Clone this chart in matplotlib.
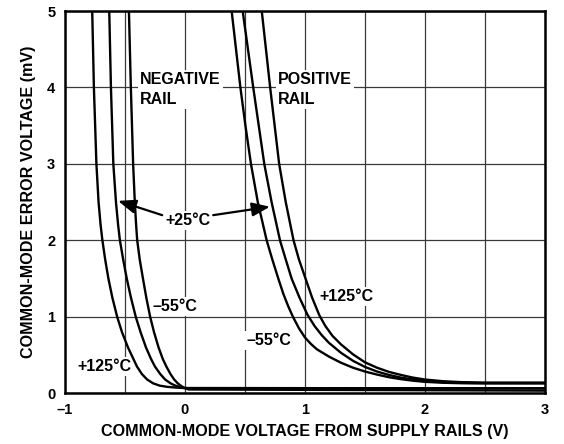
import matplotlib
matplotlib.use("Agg")
import matplotlib.pyplot as plt

plt.rcParams['font.family'] = ['Liberation Sans', 'DejaVu Sans']
plt.rcParams['font.weight'] = 'bold'
plt.rcParams['axes.labelweight'] = 'bold'

# negative rail curves (V from rail, mV)
neg_125_x = [-0.773, -0.759, -0.738, -0.72, -0.703, -0.688, -0.665, -0.638, -0.605, -0.565, -0.525,
             -0.475, -0.43, -0.4, -0.358, -0.315, -0.265, -0.21, -0.15, -0.08, 0.0, 3.0]
neg_125_y = [5.0, 4.0, 3.0, 2.5, 2.2, 2.0, 1.75, 1.5, 1.25, 1.0, 0.8,
             0.6, 0.45, 0.35, 0.25, 0.18, 0.13, 0.1, 0.085, 0.075, 0.068, 0.065]
neg_25_x = [-0.631, -0.617, -0.597, -0.575, -0.557, -0.542, -0.515, -0.485, -0.45, -0.41, -0.37,
            -0.325, -0.283, -0.25, -0.205, -0.165, -0.12, -0.08, -0.04, 0.0, 3.0]
neg_25_y = [5.0, 4.0, 3.0, 2.5, 2.2, 2.0, 1.75, 1.5, 1.25, 1.0, 0.8,
            0.6, 0.45, 0.35, 0.25, 0.18, 0.13, 0.1, 0.08, 0.068, 0.065]
neg_m55_x = [-0.467, -0.451, -0.432, -0.418, -0.407, -0.398, -0.377, -0.35, -0.322, -0.29, -0.258,
             -0.22, -0.185, -0.155, -0.12, -0.09, -0.06, -0.035, -0.01, 0.03, 3.0]
neg_m55_y = [5.0, 4.0, 3.0, 2.5, 2.2, 2.0, 1.75, 1.5, 1.25, 1.0, 0.8,
             0.6, 0.45, 0.35, 0.25, 0.18, 0.13, 0.1, 0.075, 0.05, 0.035]

# positive rail curves
pos_m55_x = [0.389, 0.462, 0.504, 0.55, 0.607, 0.681, 0.728, 0.778, 0.82, 0.86, 0.9, 0.95, 1.0,
             1.05, 1.1, 1.2, 1.3, 1.4, 1.5, 1.6, 1.7, 1.8, 1.9, 2.0, 2.15, 2.3, 2.5, 3.0]
pos_m55_y = [5.0, 4.0, 3.5, 3.0, 2.5, 2.0, 1.75, 1.5, 1.3, 1.14, 1.0, 0.85, 0.73,
             0.645, 0.575, 0.48, 0.4, 0.335, 0.285, 0.245, 0.21, 0.185, 0.165, 0.15, 0.138, 0.132, 0.13, 0.13]
pos_25_x = [0.481, 0.569, 0.661, 0.722, 0.792, 0.84, 0.889, 0.955, 1.02, 1.08, 1.14, 1.2,
            1.3, 1.4, 1.5, 1.6, 1.7, 1.8, 1.9, 2.0, 2.15, 2.3, 2.5, 3.0]
pos_25_y = [5.0, 4.0, 3.0, 2.5, 2.0, 1.75, 1.5, 1.25, 1.03, 0.88, 0.76, 0.66,
            0.53, 0.425, 0.345, 0.285, 0.24, 0.205, 0.18, 0.16, 0.145, 0.137, 0.133, 0.133]
pos_125_x = [0.64, 0.71, 0.785, 0.84, 0.905, 0.95, 1.005, 1.06, 1.12, 1.17, 1.23, 1.3,
             1.4, 1.5, 1.6, 1.7, 1.8, 1.9, 2.0, 2.15, 2.3, 2.5, 3.0]
pos_125_y = [5.0, 4.0, 3.0, 2.5, 2.0, 1.75, 1.5, 1.25, 1.02, 0.88, 0.75, 0.64,
             0.51, 0.405, 0.335, 0.28, 0.24, 0.205, 0.18, 0.158, 0.146, 0.14, 0.14]

xticks = [-1, 0, 1, 2, 3]
xtick_labels = ['\u20131', '0', '1', '2', '3']
yticks = [0, 1, 2, 3, 4, 5]

fig = plt.figure(figsize=(5.64, 4.44), dpi=100)
ax = fig.add_axes([0.1152, 0.1142, 0.851, 0.861])

curves = [(neg_125_x, neg_125_y), (neg_25_x, neg_25_y), (neg_m55_x, neg_m55_y),
          (pos_m55_x, pos_m55_y), (pos_25_x, pos_25_y), (pos_125_x, pos_125_y)]
for cx, cy in curves:
    ax.plot(cx, cy, color='black', linewidth=1.7, zorder=5, solid_joinstyle='round')

ax.set_xlim(-1, 3)
ax.set_ylim(0, 5)
ax.set_xticks(xticks)
ax.set_xticklabels(xtick_labels)
ax.set_xticks([-0.5, 0.5, 1.5, 2.5], minor=True)
ax.set_yticks(yticks)
ax.tick_params(which='both', length=0, pad=7, labelsize=10.5)
ax.set_axisbelow(True)
ax.grid(which='both', axis='x', color='#3a3a3a', linewidth=0.9)
ax.grid(which='major', axis='y', color='#3a3a3a', linewidth=0.9)
for s in ax.spines.values():
    s.set_linewidth(1.8)
    s.set_zorder(6)

ax.set_xlabel('COMMON-MODE VOLTAGE FROM SUPPLY RAILS (V)', fontsize=11.6, labelpad=5)
ax.set_ylabel('COMMON-MODE ERROR VOLTAGE (mV)', fontsize=11.6, labelpad=8)

fs = 11.5
box = dict(facecolor='white', edgecolor='none', pad=1.5)
ax.text(-0.375, 3.976, 'NEGATIVE\nRAIL', ha='left', va='center', fontsize=fs,
        linespacing=1.4, bbox=box, zorder=4)
ax.text(0.775, 3.976, 'POSITIVE\nRAIL', ha='left', va='center', fontsize=fs,
        linespacing=1.4, bbox=box, zorder=4)
ax.text(-0.675, 0.35, '+125\u00b0C', ha='center', va='center', fontsize=fs, bbox=box, zorder=4)
ax.text(-0.083, 1.14, '\u201355\u00b0C', ha='center', va='center', fontsize=fs, bbox=box, zorder=4)
ax.text(0.696, 0.685, '\u201355\u00b0C', ha='center', va='center', fontsize=fs, bbox=box, zorder=4)
ax.text(1.342, 1.27, '+125\u00b0C', ha='center', va='center', fontsize=fs, bbox=box, zorder=4)
ax.text(0.025, 2.255, '+25\u00b0C', ha='center', va='center', fontsize=fs, bbox=box, zorder=4)

arrow = dict(arrowstyle='-|>,head_length=0.9,head_width=0.35', color='black', lw=1.6,
             mutation_scale=12, shrinkA=0, shrinkB=0)
ax.annotate('', xy=(-0.558, 2.517), xytext=(-0.19, 2.33), arrowprops=arrow, zorder=6)
ax.annotate('', xy=(0.708, 2.44), xytext=(0.235, 2.33), arrowprops=arrow, zorder=6)

fig.savefig('out.png', dpi=100)
